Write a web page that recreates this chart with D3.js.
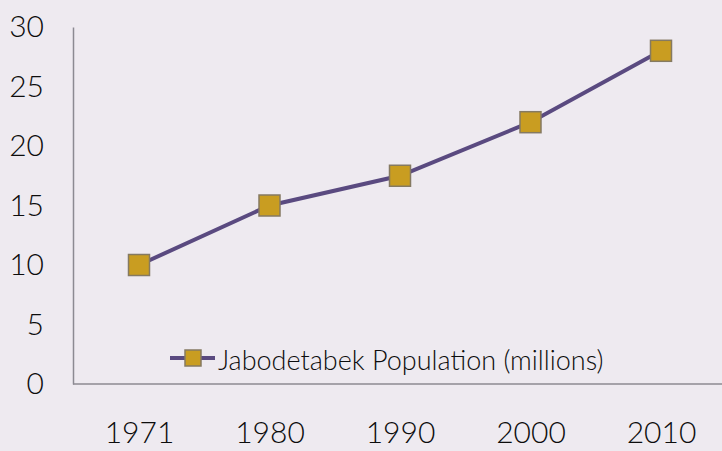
<!DOCTYPE html>
<html><head><meta charset="utf-8">
<script src="https://cdn.jsdelivr.net/npm/d3@7"></script>
<style>
html,body{margin:0;padding:0;background:#EEEAF0;}
svg{display:block;}
</style></head>
<body>
<script>
const years = ["1971","1980","1990","2000","2010"];
const population = [10, 15, 17.5, 22, 28];
const yTicks = [0,5,10,15,20,25,30];
const seriesName = "Jabodetabek Population (millions)";

const W = 722, H = 451;
const svg = d3.select("body").append("svg").attr("width", W).attr("height", H);
svg.append("rect").attr("width", W).attr("height", H).attr("fill", "#EEEAF0");

const x = d3.scalePoint().domain(years).range([139, 661]);
const y = d3.scaleLinear().domain([0, 30]).range([384, 27]);
const font = "Lato, 'Open Sans', sans-serif";

// axes
const yAxis = svg.append("g").attr("transform", "translate(73,0)")
  .call(d3.axisLeft(y).tickValues(yTicks).tickSize(0).tickPadding(29));
yAxis.select(".domain").attr("stroke", "#8c8a92").attr("stroke-width", 1.5);
yAxis.selectAll("text").attr("font-family", font).attr("font-size", 30)
  .attr("font-weight", 300).attr("fill", "#0d0d0d");

const xAxis = svg.append("g").attr("transform", "translate(0,384)")
  .call(d3.axisBottom(x).tickSize(0).tickPadding(38));
xAxis.select(".domain").attr("d", "M73,0H722").attr("stroke", "#8c8a92").attr("stroke-width", 1.5);
xAxis.selectAll("text").attr("font-family", font).attr("font-size", 30)
  .attr("font-weight", 300).attr("fill", "#0d0d0d");

// line
const line = d3.line().x((d,i) => x(years[i])).y(d => y(d));
svg.append("path").datum(population).attr("d", line)
  .attr("fill", "none").attr("stroke", "#5a4a80").attr("stroke-width", 4);

const ms = 21;
svg.selectAll("rect.m").data(population).enter().append("rect").attr("class","m")
  .attr("x", (d,i) => x(years[i]) - ms/2).attr("y", d => y(d) - ms/2)
  .attr("width", ms).attr("height", ms)
  .attr("fill", "#c99d21").attr("stroke", "#857a62").attr("stroke-width", 1.5);

// legend
const lg = svg.append("g").attr("transform", "translate(170,358)");
lg.append("line").attr("x1", 0).attr("x2", 45).attr("y1", 0).attr("y2", 0)
  .attr("stroke", "#5a4a80").attr("stroke-width", 4);
lg.append("rect").attr("x", 15).attr("y", -8).attr("width", 16).attr("height", 16)
  .attr("fill", "#c99d21").attr("stroke", "#857a62").attr("stroke-width", 1.5);
lg.append("text").attr("x", 48).attr("y", 12)
  .attr("font-family", font).attr("font-size", 27).attr("font-weight", 300)
  .attr("fill", "#0d0d0d")
  .text(seriesName);
</script>
</body></html>
